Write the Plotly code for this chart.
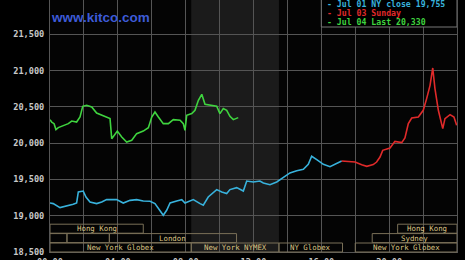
import plotly.graph_objects as go

# ---------------- data (hours after midnight NY time, price in USD) ----------------
blue_h = [0.00, 0.19, 0.59, 0.98, 1.37, 1.57, 1.67, 1.96, 2.12, 2.36, 2.75, 3.05, 3.34, 3.93,
          4.32, 4.72, 5.11, 5.50, 5.90, 6.19, 6.49, 6.68, 6.88, 7.08, 7.47, 7.77, 7.96, 8.45,
          8.85, 9.04, 9.33, 9.83, 10.13, 10.42, 10.61, 11.01, 11.40, 11.60, 11.99, 12.38, 12.58,
          12.97, 13.37, 13.76, 14.15, 14.55, 14.94, 15.23, 15.43, 15.73, 16.12, 16.51, 16.81,
          17.00, 17.20]
blue_v = [19175, 19167, 19112, 19130, 19157, 19175, 19327, 19340, 19258, 19189, 19167, 19189,
          19222, 19222, 19175, 19212, 19222, 19203, 19199, 19167, 19075, 19006, 19075, 19175,
          19203, 19222, 19175, 19222, 19167, 19144, 19258, 19360, 19327, 19305, 19360, 19387,
          19340, 19478, 19465, 19478, 19451, 19428, 19465, 19525, 19590, 19620, 19640, 19708,
          19819, 19773, 19708, 19675, 19708, 19740, 19755]

red_h = [17.20, 17.99, 18.38, 18.68, 19.06, 19.26, 19.46, 19.62, 20.05, 20.34, 20.74, 20.93,
         21.13, 21.33, 21.72, 22.01, 22.21, 22.41, 22.57, 22.70, 22.90, 23.16, 23.29, 23.59,
         23.82, 23.98]
red_v = [19755, 19740, 19704, 19681, 19704, 19740, 19809, 19901, 19933, 20025, 20007, 20071,
         20269, 20347, 20360, 20453, 20614, 20797, 21036, 20752, 20453, 20200, 20338, 20393,
         20360, 20246]

green_h = [0.00, 0.10, 0.24, 0.35, 0.49, 0.78, 1.08, 1.28, 1.57, 1.77, 1.93, 2.16, 2.46, 2.75,
           3.05, 3.34, 3.54, 3.64, 3.83, 3.97, 4.23, 4.52, 4.82, 5.11, 5.50, 5.80, 6.00, 6.19,
           6.39, 6.68, 6.98, 7.27, 7.67, 7.86, 7.96, 8.06, 8.36, 8.55, 8.75, 8.95, 9.14, 9.43,
           9.83, 10.02, 10.22, 10.42, 10.61, 10.81, 11.10]
green_v = [20324, 20291, 20269, 20187, 20214, 20246, 20269, 20305, 20291, 20360, 20508, 20522,
           20498, 20416, 20384, 20360, 20338, 20062, 20131, 20167, 20085, 20016, 20039, 20131,
           20167, 20214, 20360, 20429, 20360, 20269, 20269, 20324, 20315, 20269, 20177, 20384,
           20407, 20453, 20590, 20673, 20535, 20522, 20508, 20407, 20476, 20453, 20370, 20324,
           20352]

legend_labels = ["- Jul 01 NY close 19,755", "- Jul 03 Sunday", "- Jul 04 Last 20,330"]

x_tick_h = [0, 2, 4, 6, 8, 10, 12, 14, 16, 18, 20, 22, 24]
x_tick_text = ["00:00", "", "04:00", "", "08:00", "", "12:00", "", "16:00", "", "20:00", "", "23:59"]
y_tick_vals = [18500, 19000, 19500, 20000, 20500, 21000, 21500]
y_top_label = 22000

comex_open, comex_close = 8.33, 13.5

# sessions: start hour, end hour, label, row (0 = bottom)
sess_start = [0.0, 8.33, 13.5, 18.0, 0.0, 1.0, 3.5, 19.0, 0.0, 20.5]
sess_end = [8.33, 13.5, 17.25, 24.0, 1.0, 3.5, 11.0, 24.0, 5.5, 24.0]
sess_label = ["New York Globex", "New York NYMEX", "NY Globex", "New York Globex",
              "", "", "London", "Sydney", "Hong Kong", "Hong Kong"]
sess_row = [0, 0, 0, 0, 1, 1, 1, 1, 2, 2]

# ---------------- styling ----------------
W, H = 465, 260
ML, MR, MT, MB = 50, 8, 0, 8
PW, PH = W - ML - MR, H - MT - MB
BLUE, RED, GREEN = "#38b2dc", "#e02a2a", "#3fd43f"
GRID = "#555555"
TICKFONT = dict(family="DejaVu Sans Mono", size=8.6, color="#c8c8c8", weight="bold")


def py(pix_from_top):
    return (PH - pix_from_top) / PH


def px(pix_from_left):
    return (pix_from_left - ML) / PW


fig = go.Figure()
for h, v, c, name in [(blue_h, blue_v, BLUE, legend_labels[0]),
                      (red_h, red_v, RED, legend_labels[1]),
                      (green_h, green_v, GREEN, legend_labels[2])]:
    fig.add_trace(go.Scatter(x=h, y=v, mode="lines", name=name,
                             line=dict(color=c, width=1.6), showlegend=False,
                             cliponaxis=True))

shapes = [dict(type="rect", xref="x", yref="paper", x0=comex_open, x1=comex_close,
               y0=0, y1=1, fillcolor="#1b1b1b", line=dict(width=0), layer="below")]
annotations = []

ROW_H = 9.4
for s, e, lab, r in zip(sess_start, sess_end, sess_label, sess_row):
    y0 = r * ROW_H / PH
    y1 = (r * ROW_H + 9.0) / PH
    shapes.append(dict(type="rect", xref="x", yref="paper", x0=s, x1=e, y0=y0, y1=y1,
                       line=dict(color="#7a7058", width=1), fillcolor="rgba(0,0,0,0)",
                       layer="above"))
    if lab:
        annotations.append(dict(x=(s + e) / 2, y=(y0 + y1) / 2, xref="x", yref="paper",
                                text=lab, showarrow=False, xanchor="center", yanchor="middle",
                                font=dict(family="DejaVu Sans Mono", size=7.4, color="#dcc485")))

# legend box
shapes.append(dict(type="rect", xref="x", yref="paper", x0=16, x1=24, y0=py(27), y1=1.02,
                   fillcolor="#000000", line=dict(color="#777777", width=1), layer="above"))
for i, (lab, c) in enumerate(zip(legend_labels, [BLUE, RED, GREEN])):
    annotations.append(dict(x=px(325), y=py(3.8 + 9 * i), xref="paper", yref="paper",
                            text=lab, showarrow=False, xanchor="left", yanchor="middle",
                            font=dict(family="DejaVu Sans Mono", size=8.2, color=c, weight="bold")))

# watermark
annotations.append(dict(x=px(49), y=py(18), xref="paper", yref="paper", text="www.kitco.com",
                        showarrow=False, xanchor="left", yanchor="middle",
                        font=dict(family="Liberation Sans", size=13.5, color="#3d5bd8",
                                  weight="bold")))
# partially visible top label
annotations.append(dict(x=0, y=y_top_label, xref="paper", yref="y", text=f"{y_top_label:,}",
                        showarrow=False, xanchor="right", yanchor="middle", xshift=-4,
                        font=TICKFONT))

fig.update_layout(
    width=W, height=H, margin=dict(l=ML, r=MR, t=MT, b=MB, pad=0),
    paper_bgcolor="#000000", plot_bgcolor="#040404",
    shapes=shapes, annotations=annotations, showlegend=False,
    xaxis=dict(range=[0, 24], tickmode="array", tickvals=x_tick_h, ticktext=x_tick_text,
               showgrid=True, gridcolor=GRID, gridwidth=1, zeroline=False,
               showline=True, linecolor=GRID, linewidth=1, mirror=False,
               ticks="outside", ticklen=2, tickcolor="rgba(0,0,0,0)",
               tickfont=TICKFONT, automargin=False, fixedrange=True),
    yaxis=dict(range=[18500, 18500 + PH * 500 / 36.28], tickmode="array",
               tickvals=y_tick_vals, ticktext=[f"{v:,}" for v in y_tick_vals],
               showgrid=True, gridcolor=GRID, gridwidth=1, zeroline=False,
               showline=True, linecolor=GRID, linewidth=1, mirror=True,
               ticks="outside", ticklen=3, tickcolor="rgba(0,0,0,0)",
               tickfont=TICKFONT, automargin=False, fixedrange=True),
)

fig.write_html("out.html", config={"displayModeBar": False})
